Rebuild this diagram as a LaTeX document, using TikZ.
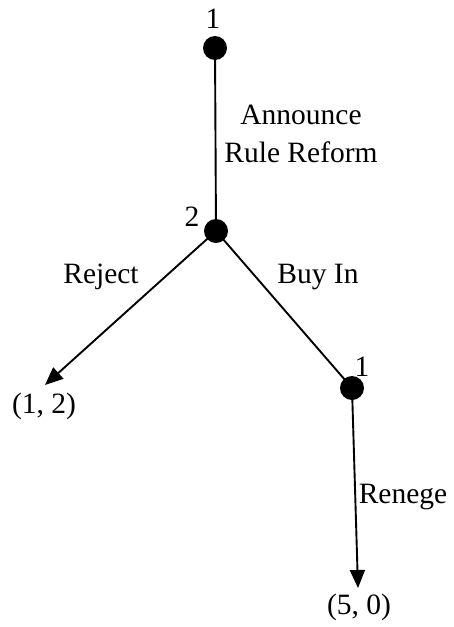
\documentclass[tikz,border=0pt]{standalone}
\usepackage{fontspec}
\setmainfont{Liberation Serif}
\usetikzlibrary{arrows.meta}
\begin{document}
\begin{tikzpicture}[x=1pt,y=-1pt,
  dot/.style={circle,fill=black,inner sep=0pt,minimum size=24pt},
  lbl/.style={inner sep=0pt,font=\fontsize{29.5}{38}\selectfont},
  edge/.style={line width=1.9pt},
  arr/.style={line width=1.9pt,-{Triangle[length=18pt,width=15pt]}}]
\useasboundingbox (0,0) rectangle (454,627);
\node[dot] (n1) at (215,48) {};
\node[dot] (n2) at (216,231) {};
\node[dot] (n3) at (352,388) {};
\coordinate (t1) at (45,385);
\coordinate (t2) at (358,588);
\node[lbl] (l1) at (213,19) {1};
\node[lbl] (l2) at (192,217) {2};
\node[lbl] (l3) at (362,367) {1};
\node[lbl,align=center] (ann) at (301,134) {Announce\\Rule Reform};
\node[lbl] (rej) at (101,277) {Reject};
\node[lbl] (buy) at (318,277) {Buy In};
\node[lbl] (ren) at (403,497) {Renege};
\node[lbl] (p1) at (44,406) {(1, 2)};
\node[lbl] (p2) at (359,607) {(5, 0)};
\draw[edge] (n1.center) -- (n2.center);
\draw[edge] (n2.center) -- (n3.center);
\draw[arr] (n2.center) -- (t1);
\draw[arr] (n3.center) -- (t2);
\end{tikzpicture}
\end{document}
